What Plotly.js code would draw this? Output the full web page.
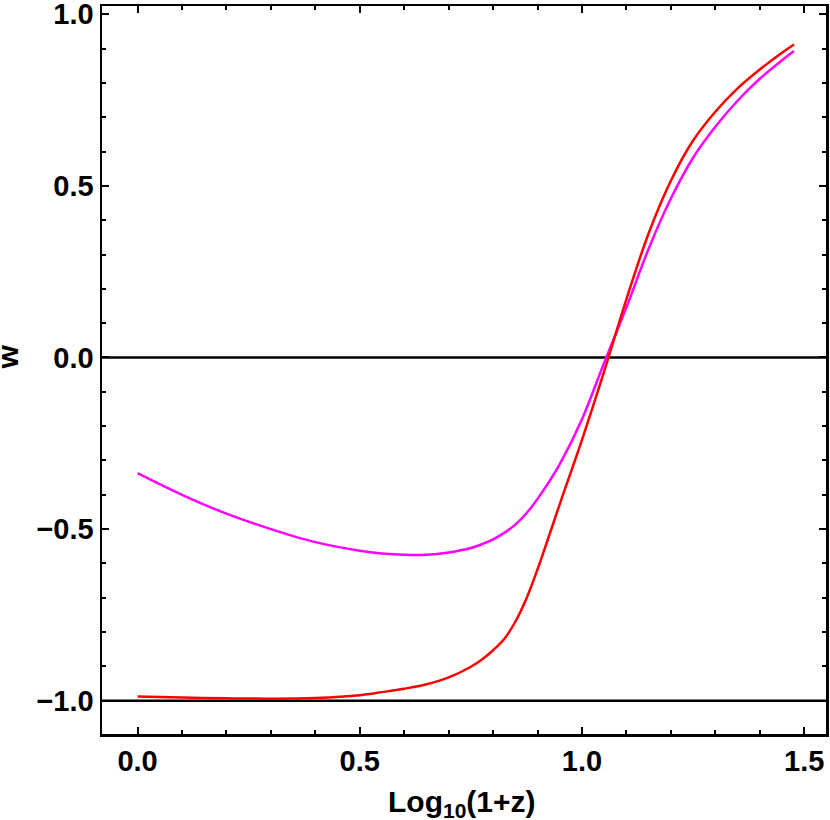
<!DOCTYPE html>
<html>
<head>
<meta charset="utf-8">
<script src="https://cdn.plot.ly/plotly-3.0.1.min.js"></script>
<style>
  html, body { margin: 0; padding: 0; background: #fff; }
  #chart { width: 830px; height: 820px; }
</style>
</head>
<body>
<div id="chart"></div>
<script>
// log10(1+z) grid
const logZ = [0, 0.1, 0.2, 0.3, 0.4, 0.5, 0.55, 0.6, 0.65, 0.7, 0.75, 0.775, 0.8, 0.825, 0.85, 0.875,
              0.9, 0.925, 0.95, 1.0, 1.05, 1.1, 1.15, 1.2, 1.25, 1.3, 1.35, 1.4, 1.45, 1.477];

// w for the red curve
const wRed = [-0.988, -0.991, -0.993, -0.994, -0.992, -0.984, -0.975, -0.965, -0.952, -0.932, -0.901,
              -0.880, -0.853, -0.820, -0.770, -0.702, -0.617, -0.523, -0.427, -0.240, -0.040,
              0.170, 0.362, 0.515, 0.632, 0.716, 0.784, 0.839, 0.888, 0.912];

// w for the magenta curve
const wMagenta = [-0.337, -0.400, -0.455, -0.500, -0.538, -0.563, -0.571, -0.575, -0.575, -0.568, -0.555,
                  -0.544, -0.530, -0.511, -0.487, -0.454, -0.412, -0.364, -0.311, -0.180, -0.015,
                  0.146, 0.317, 0.463, 0.582, 0.672, 0.748, 0.812, 0.866, 0.893];

// horizontal reference levels
const refLevels = [0, -1];

const fontFam = '"Liberation Sans", Arial, sans-serif';
const titleFont = { family: fontFam, size: 30, color: '#000', weight: 'bold' };

const traces = [
    {
        x: logZ, y: wMagenta,
        type: 'scatter', mode: 'lines',
        line: { color: '#ff00ff', width: 2.5, shape: 'spline', smoothing: 1 },
        hoverinfo: 'skip'
    },
    {
        x: logZ, y: wRed,
        type: 'scatter', mode: 'lines',
        line: { color: '#ff0000', width: 2.5, shape: 'spline', smoothing: 1 },
        hoverinfo: 'skip'
    }
];

const refShapes = refLevels.map(v => ({
    type: 'line', xref: 'paper', yref: 'y',
    x0: 0, x1: 1, y0: v, y1: v,
    line: { color: '#000', width: 2.5 },
    layer: 'below'
}));

const axisCommon = {
    showgrid: false,
    zeroline: false,
    showline: true,
    linecolor: '#000',
    linewidth: 2.5,
    mirror: 'allticks',
    ticks: 'inside',
    ticklen: 7,
    tickwidth: 2,
    tickcolor: '#000',
    ticklabeloverflow: 'allow',
    tickfont: { family: fontFam, size: 29, color: '#000', weight: 'bold' },
    minor: { dtick: 0.1, ticks: 'inside', ticklen: 4, tickwidth: 2, tickcolor: '#000' }
};

// axis titles as annotations so they sit where the reference has them
const axisTitles = [
    { text: 'Log<sub>10</sub>(1+z)', xref: 'paper', yref: 'paper', x: 0.497, y: -0.095,
      xanchor: 'center', yanchor: 'middle', showarrow: false, font: titleFont },
    { text: 'w', xref: 'paper', yref: 'paper', x: -0.131, y: 0.5175, textangle: -90,
      xanchor: 'center', yanchor: 'middle', showarrow: false, font: titleFont }
];

Plotly.newPlot('chart', traces, {
    width: 830, height: 820,
    margin: { l: 102, r: 4, t: 6, b: 86 },
    paper_bgcolor: '#fff',
    plot_bgcolor: '#fff',
    showlegend: false,
    shapes: refShapes,
    annotations: axisTitles,
    xaxis: Object.assign({}, axisCommon, {
        range: [-0.08, 1.549],
        tickvals: [0, 0.5, 1, 1.5],
        ticktext: ['0.0', '0.5', '1.0', '1.5']
    }),
    yaxis: Object.assign({}, axisCommon, {
        range: [-1.097, 1.024],
        tickvals: [-1, -0.5, 0, 0.5, 1],
        ticktext: ['\u22121.0', '\u22120.5', '0.0', '0.5', '1.0']
    })
}, { displayModeBar: false, staticPlot: true });
</script>
</body>
</html>
